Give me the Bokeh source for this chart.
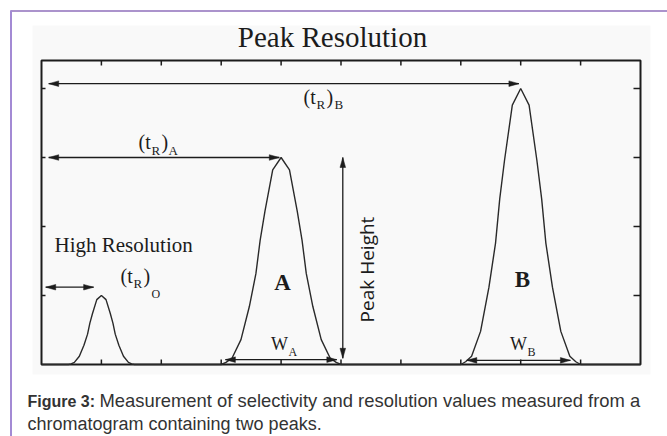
import numpy as np
from bokeh.plotting import figure
from bokeh.models import Label, Range1d
from bokeh.embed import file_html
from bokeh.resources import INLINE

# ---------------- data ----------------
peak_names = ["O", "A", "B"]
peak_centers = [1.0, 4.0, 8.0]          # retention positions (axis units)
peak_heights = [1.0, 3.0, 4.0]          # peak heights (axis units)
peak_halfwidths = [0.55, 1.0, 1.0]      # half base width of each peak
# normalised peak profile read off peak A (offset from apex / half base width, relative height)
profile_dx = [0.0, 0.14, 0.27, 0.35, 0.42, 0.53, 0.67, 0.82, 0.92, 1.0]
profile_h = [1.0, 0.94, 0.74, 0.60, 0.44, 0.28, 0.12, 0.03, 0.01, 0.0]
x_ticks = [1, 2, 3, 4, 5, 6, 7, 8, 9]
y_ticks = [1, 2, 3, 4]
x_max = 10.0
y_max = 4.406

# ---------------- layout ----------------
W, H = 667, 436
FL, FR, FT, FB = 41, 640, 60, 364        # chart frame in canvas pixels (from top-left)
sx = (FR - FL) / x_max
sy = (FB - FT) / y_max


def X(px):   # canvas pixel -> data x
    return (px - FL) / sx


def Y(py):   # canvas pixel -> data y
    return (FB - py) / sy


p = figure(width=W, height=H, output_backend="svg", toolbar_location=None,
           x_range=Range1d(-FL / sx, (W - FL) / sx),
           y_range=Range1d(-(H - FB) / sy, FB / sy),
           x_axis_location=None, y_axis_location=None, min_border=0)
p.grid.visible = False
p.outline_line_color = None
p.background_fill_color = "white"
p.border_fill_color = "white"

# card border + image panel
p.quad(left=X(32), right=X(650), top=Y(25), bottom=Y(374),
       fill_color="#f9f9f9", line_color=None)
p.line([X(10), X(668)], [Y(10.5), Y(10.5)], line_color="#ab93cc", line_width=2)
p.line([X(10.5), X(10.5)], [Y(10), Y(440)], line_color="#a38ad4", line_width=2)

INK = "#1c1c1c"

# frame
p.quad(left=0, right=x_max, bottom=0, top=y_max, fill_color=None,
       line_color=INK, line_width=2)
# inward ticks
p.segment(x0=x_ticks, y0=[y_max] * 9, x1=x_ticks, y1=[y_max - 5 / sy] * 9,
          line_color=INK, line_width=1.5)
p.segment(x0=x_ticks, y0=[0] * 9, x1=x_ticks, y1=[5 / sy] * 9,
          line_color=INK, line_width=1.5)
p.segment(x0=[0] * 4, y0=y_ticks, x1=[4 / sx] * 4, y1=y_ticks,
          line_color=INK, line_width=1.5)
p.segment(x0=[x_max] * 4, y0=y_ticks, x1=[x_max - 7 / sx] * 4, y1=y_ticks,
          line_color=INK, line_width=1.5)

# chromatogram
xs, ys = [0.0], [0.0]
for c, h, hw in zip(peak_centers, peak_heights, peak_halfwidths):
    for dx, ph in zip(reversed(profile_dx), reversed(profile_h)):
        xs.append(c - dx * hw)
        ys.append(h * ph)
    for dx, ph in zip(profile_dx[1:], profile_h[1:]):
        xs.append(c + dx * hw)
        ys.append(h * ph)
xs.append(x_max)
ys.append(0.0)
p.line(xs, ys, line_color="#2a2a2a", line_width=1.4)

# arrows
HL, HW = 10, 2.8   # head length / half width in px


def harrow(x0, x1, y, left=True, right=True):
    p.line([x0, x1], [y, y], line_color=INK, line_width=1.3)
    px, py = [], []
    if left:
        px.append([x0, x0 + HL / sx, x0 + HL / sx])
        py.append([y, y + HW / sy, y - HW / sy])
    if right:
        px.append([x1, x1 - HL / sx, x1 - HL / sx])
        py.append([y, y + HW / sy, y - HW / sy])
    p.patches(px, py, fill_color=INK, line_color=INK, line_width=0.5)


def varrow(x, y0, y1):
    p.line([x, x], [y0, y1], line_color=INK, line_width=1.3)
    p.patches([[x, x - HW / sx, x + HW / sx], [x, x - HW / sx, x + HW / sx]],
              [[y1, y1 - HL / sy, y1 - HL / sy], [y0, y0 + HL / sy, y0 + HL / sy]],
              fill_color=INK, line_color=INK, line_width=0.5)


cO, cA, cB = peak_centers
hO, hA, hB = peak_heights
harrow(0.12, cB - 0.03, hB + 0.07)                 # (tR)B
harrow(0.12, cA - 0.03, hA)                        # (tR)A
harrow(0.07, cO - 0.13, hO + 0.12)                 # (tR)O
varrow(cA + 1.03, 0.09, hA)                        # peak height
harrow(cA - 0.93, cA + 0.93, 0.07)                 # WA
harrow(cB - 0.9, cB + 0.83, 0.06)                  # WB

SERIF = "Liberation Serif"


def lab(text, px, py, size, font=SERIF, style="normal", align="left",
        color=INK, angle=0.0, baseline="alphabetic"):
    # py is the wanted baseline; the rendered baseline sits ~0.38 em below the anchor
    yy = py - 0.38 * size if baseline == "alphabetic" else py
    p.add_layout(Label(x=X(px), y=Y(yy), text=text, text_font=font,
                       text_font_size=f"{size}px", text_font_style=style,
                       text_align=align, text_baseline=baseline,
                       text_color=color, angle=angle))


# title
lab("Peak Resolution", 332, 48, 29, align="center")

# retention labels
lab("(t", 303, 104, 20); lab("R", 316, 109, 13); lab(")", 326, 104, 20); lab("B", 334, 109, 13)
lab("(t", 138, 149, 20); lab("R", 151, 155, 13); lab(")", 161, 149, 20); lab("A", 168, 155, 13)
lab("(t", 120, 283, 20); lab("R", 133, 288, 13); lab(")", 143, 283, 20); lab("O", 151, 298, 12)

lab("High Resolution", 54, 252, 21)
lab("A", 282, 291, 23, style="bold", align="center")
lab("B", 522, 288, 23, style="bold", align="center")
lab("W", 279, 350, 18, align="center"); lab("A", 288, 356, 12)
lab("W", 518, 350, 18, align="center"); lab("B", 527, 356, 12)
lab("Peak Height", 366, 269, 19, font="Open Sans", align="center",
    angle=np.pi / 2, baseline="middle")

# caption
CAP = "#333333"
lab("Figure 3:", 27, 407, 16, font="Liberation Sans", style="bold", color=CAP)
lab("Measurement of selectivity and resolution values measured from a", 99, 407, 18.4,
    font="Liberation Sans", color=CAP)
lab("chromatogram containing two peaks.", 27, 430, 18, font="Liberation Sans", color=CAP)

open("out.html", "w").write(file_html(p, INLINE))
